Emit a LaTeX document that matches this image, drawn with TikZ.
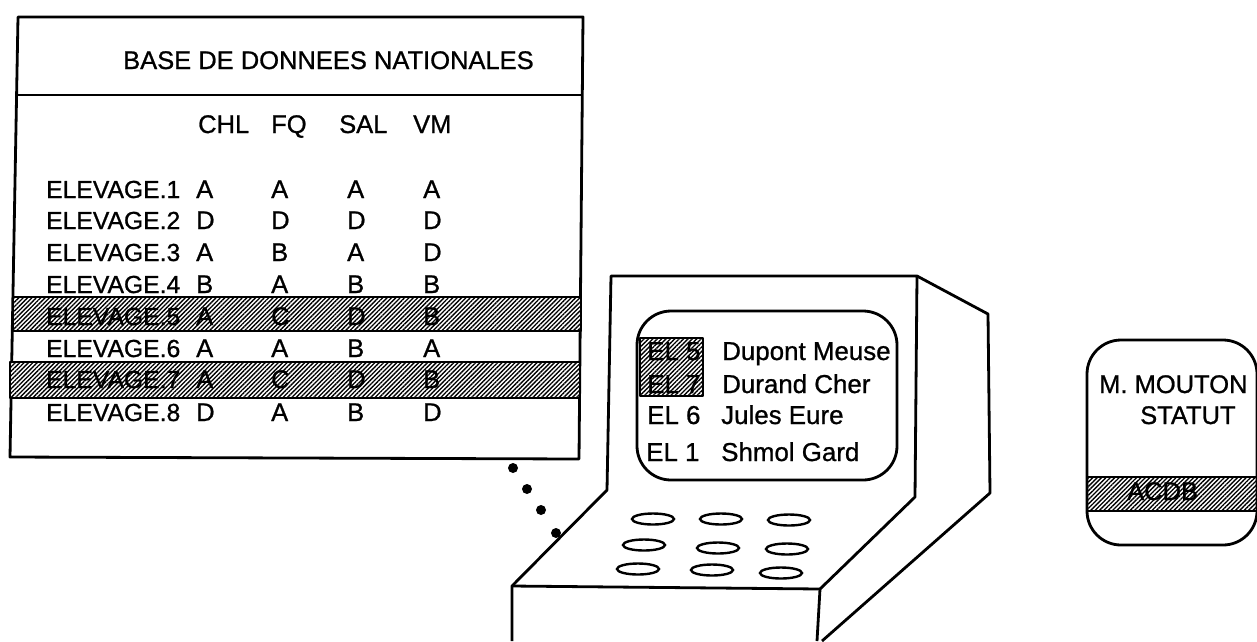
\documentclass[tikz,border=0pt]{standalone}
\usepackage{fontspec}
\setmainfont{Liberation Sans}[AutoFakeBold=0.9]
\usetikzlibrary{patterns.meta,calc}
\tikzset{
 ink/.style={draw=black,line width=2.8pt,line join=round},
 txt/.style={inner sep=0pt,anchor=base west,font=\fontsize{25.5}{25.5}\bfseries,text=black},
 nam/.style={txt,font=\fontsize{24.7}{24.7}\bfseries},
 scr/.style={txt,font=\fontsize{25.9}{25.9}\bfseries},
 hatch/.style={fill=white,postaction={pattern={Lines[angle=45,distance=3.1pt,line width=1.35pt]},pattern color=black}},
 dot/.style={circle,fill=black,minimum size=10pt,inner sep=0pt},
}
\begin{document}
\begin{tikzpicture}[x=1pt,y=-1pt]
\useasboundingbox (0,0) rectangle (1257,641);
% table box
\draw[ink] (18,17) -- (583,17) -- (579,459) -- (10,457) -- cycle;
\draw[ink] (17,95) -- (582,95);
\draw[ink,hatch] (13,297) rectangle (581,331);
\draw[ink,hatch] (10,362) rectangle (580,398);
\node[txt] (title) at (123,69) {BASE DE DONNEES NATIONALES};
\node[txt] (h1) at (198,133) {CHL};
\node[txt] (h2) at (271,133) {FQ};
\node[txt] (h3) at (339,133) {SAL};
\node[txt] (h4) at (413,133) {VM};
\foreach \y/\n/\a/\b/\c/\d in {198/1/A/A/A/A,229/2/D/D/D/D,261/3/A/B/A/D,293/4/B/A/B/B,325/5/A/C/D/B,357/6/A/A/B/A,388/7/A/C/D/B,421/8/D/A/B/D}{
 \node[nam] (n\n) at (46,\y) {ELEVAGE.\n};
 \node[txt] (a\n) at (196,\y) {\a};
 \node[txt] (b\n) at (271,\y) {\b};
 \node[txt] (c\n) at (347,\y) {\c};
 \node[txt] (d\n) at (423,\y) {\d};
}
% dots
\node[dot] (p1) at (513,468) {};
\node[dot] (p2) at (527,489) {};
\node[dot] (p3) at (541,510) {};
\node[dot] (p4) at (556,533) {};
% terminal
\draw[ink] (512,641) -- (512,586) -- (607,490) -- (611,276) -- (917,276) -- (915,497) -- (820,589) -- (817,641);
\draw[ink] (512,586) -- (820,589);
\draw[ink] (917,276) -- (988,314) -- (990,493) -- (822,641);
\draw[ink,rounded corners=34pt] (637,311) rectangle (897,480);
\draw[ink,hatch] (640,338) rectangle (703,396);
\node[scr] (e5) at (647,360) {EL 5};
\node[scr] (e7) at (647,393) {EL 7};
\node[scr] (e6) at (647,424) {EL 6};
\node[scr] (e1) at (646,461) {EL 1};
\node[scr] (f5) at (722,360) {Dupont Meuse};
\node[scr] (f7) at (722,393) {Durand Cher};
\node[scr] (f6) at (721,424) {Jules Eure};
\node[scr] (f1) at (721,461) {Shmol Gard};
\foreach \i/\x/\y in {1/653/519,2/721/519,3/789/520,4/644/545,5/718/548,6/787/549,7/638/569,8/712/570,9/781/573}{
 \draw[draw=black,line width=2.4pt] (\x,\y) ellipse [x radius=21,y radius=5.5];
}
% card
\draw[ink,hatch] (1087,477) rectangle (1257,511);
\draw[ink,rounded corners=34pt] (1087,340) rectangle (1257,545);
\node[txt] (m) at (1099,393) {M. MOUTON};
\node[txt] (s) at (1140,424) {STATUT};
\node[txt] (acdb) at (1127,500) {ACDB};
\end{tikzpicture}
\end{document}
